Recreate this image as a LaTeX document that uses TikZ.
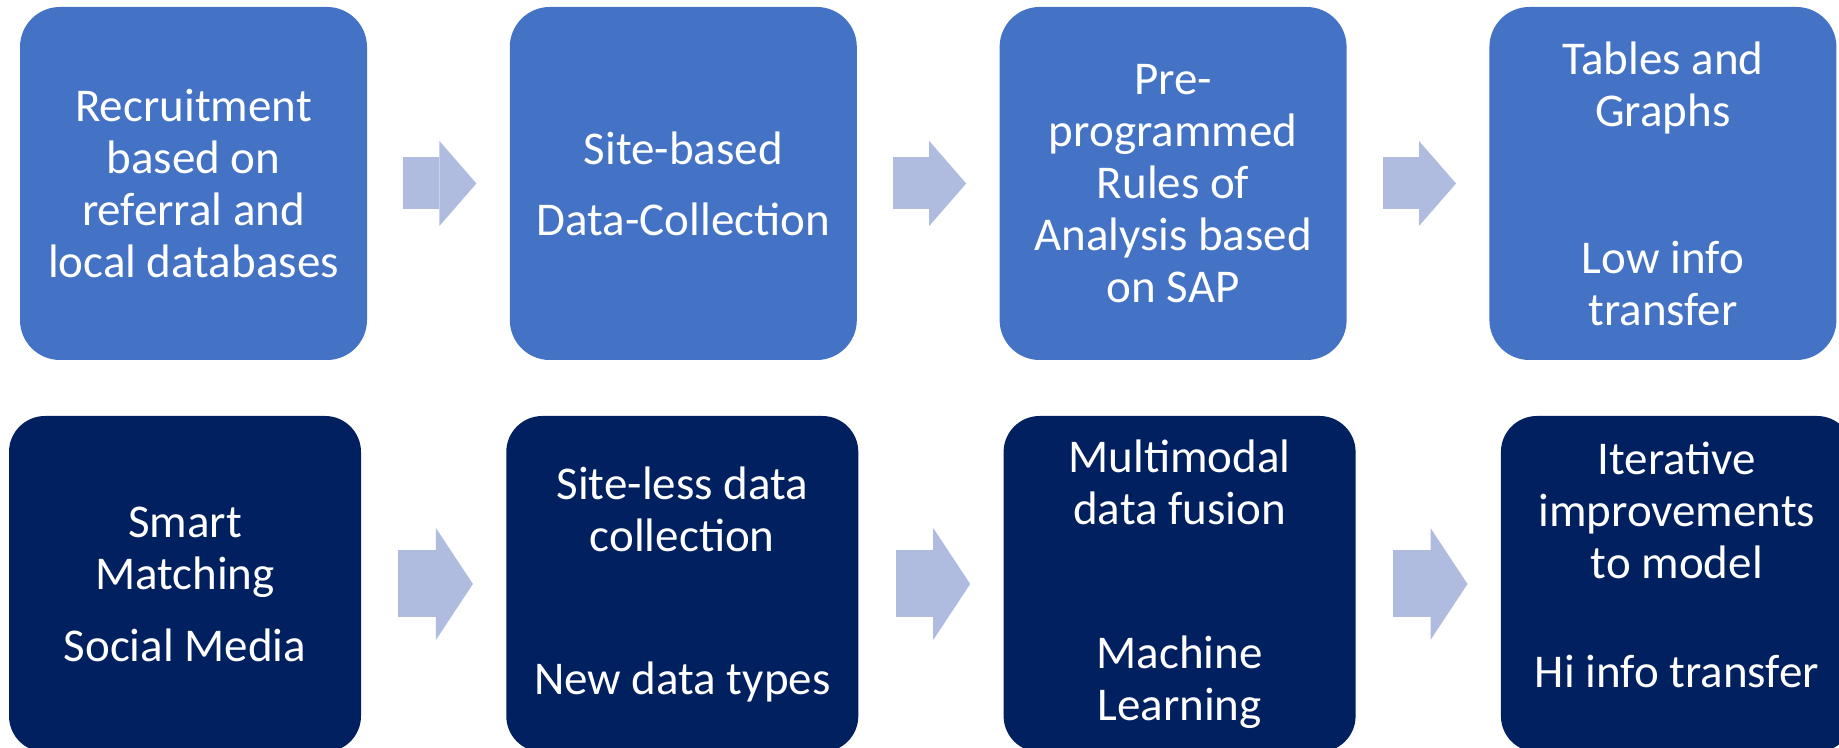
\documentclass[tikz,border=0pt]{standalone}
\usepackage{fontspec}
\setmainfont{Carlito}
\usetikzlibrary{arrows.meta, positioning}
\definecolor{oldblue}{RGB}{68,114,196}
\definecolor{newblue}{RGB}{0,32,96}
\definecolor{arrowblue}{RGB}{175,188,223}
\tikzstyle{box}=[fill=oldblue, text=white, rounded corners=20pt, inner sep=0pt, minimum width=173.5pt, minimum height=176.5pt, align=center, font=\fontsize{23.5}{26}\selectfont]
\tikzstyle{newbox}=[box, fill=newblue, rounded corners=18pt, minimum width=176pt, minimum height=168pt]
\tikzstyle{fat}=[draw=arrowblue, line width=26pt, shorten <=18pt, shorten >=16.5pt, -{Triangle[length=18.5pt, width=42.5pt, line width=0pt]}]
\tikzstyle{newfat}=[fat, line width=33.5pt, shorten <=18.5pt, -{Triangle[length=18.5pt, width=56pt, line width=0pt]}]

\begin{document}
\begin{tikzpicture}[node distance = 71pt]
\useasboundingbox (0,0) rectangle (919.5pt,374pt);
\clip (0,0) rectangle (919.5pt,374pt);
% current pipeline
\node[box] at (96.75pt,282.25pt) (recruit) {Recruitment\\based on\\referral and\\local databases};
\node[box, right = of recruit] (site) {Site-based\\[9.5pt]Data-Collection};
\node[box, right = of site] (rules) {Pre-\\programmed\\Rules of\\Analysis based\\on SAP};
\node[box, right = of rules] (tables) {Tables and\\Graphs\\[47.5pt]Low info\\transfer};
% new pipeline
\node[newbox] at (92.5pt,82pt) (smart) {Smart\\Matching\\[10pt]Social Media};
\node[newbox, right = 72.25pt of smart] (siteless) {Site-less data\\collection\\[45.5pt]New data types};
\node[newbox, right = 72.25pt of siteless] (fusion) {Multimodal\\data fusion\\[46pt]Machine\\Learning};
\node[newbox, right = 72.25pt of fusion] (iter) {Iterative\\improvements\\to model\\[28.5pt]Hi info transfer\rule[-19pt]{0pt}{19pt}};
\draw[fat] (recruit) -- (site);
\draw[fat] (site) -- (rules);
\draw[fat] (rules) -- (tables);
\draw[newfat] (smart) -- (siteless);
\draw[newfat] (siteless) -- (fusion);
\draw[newfat] (fusion) -- (iter);
\end{tikzpicture}
\end{document}
